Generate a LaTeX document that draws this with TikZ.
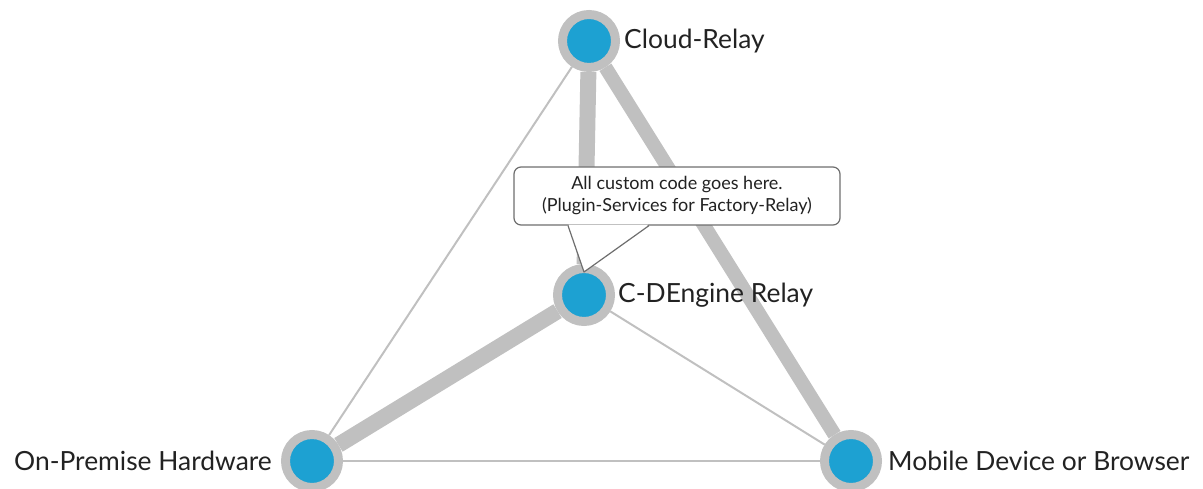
\documentclass[tikz,border=0pt]{standalone}
\usepackage{fontspec}
\setmainfont{Lato}
\usepackage{xcolor}
\usetikzlibrary{positioning,backgrounds}
\definecolor{ringgray}{HTML}{C0C0C0}
\definecolor{dotblue}{HTML}{1DA1D2}
\definecolor{notegray}{HTML}{6E6E6E}
\definecolor{inkgray}{HTML}{222222}

\begin{document}
\begin{tikzpicture}[
    x=1pt, y=-1pt,
    station/.style={circle, fill=dotblue, draw=ringgray, line width=9pt, minimum size=53pt, inner sep=0pt},
    caption/.style={inner sep=0pt, text=inkgray, font=\fontsize{26.4}{31}\selectfont},
    note/.style={draw=notegray, line width=1.2pt, fill=white, rounded corners=7pt, align=center, minimum width=326pt, minimum height=58pt, text=inkgray, font=\fontsize{18}{22}\selectfont},
    bond/.style={draw=ringgray, line width=#1},
    link/.style={draw=ringgray, line width=2pt}
  ]
    \useasboundingbox (0,0) rectangle (1203,489);

    \node[station] (cloud) at (589,41) {};
    \node[station] (relay) at (584,295) {};
    \node[station] (onprem) at (312,461) {};
    \node[station] (mobile) at (851,461) {};

    \node[caption, right=4pt of cloud] (cloudlbl) {Cloud-Relay};
    \node[caption, right=3pt of relay] (relaylbl) {C-DEngine Relay};
    \node[caption, left=9pt of onprem] (onpremlbl) {On-Premise Hardware};
    \node[caption, right=6pt of mobile] (mobilelbl) {Mobile Device or Browser};

    \begin{scope}[on background layer]
      \draw[link] (cloud) -- (onprem);
      \draw[link] (relay) -- (mobile);
      \draw[link] (onprem) -- (mobile);
      \draw[bond=16pt] (cloud) -- (relay);
      \draw[bond=14pt] (cloud) -- (mobile);
      \draw[bond=16pt] (relay) -- (onprem);
    \end{scope}

    % callout above the relay
    \node[note] (note) at (677,196) {All custom code goes here.\\(Plugin-Services for Factory-Relay)};
    \coordinate (tip) at (584,272);
    \fill[white] ([xshift=-108.4pt,yshift=1pt]note.south) -- (tip) -- ([xshift=-28.6pt,yshift=1pt]note.south) -- cycle;
    \draw[notegray, line width=1.2pt, line join=round] ([xshift=-109pt]note.south) -- (tip) -- ([xshift=-28pt]note.south);
\end{tikzpicture}
\end{document}
